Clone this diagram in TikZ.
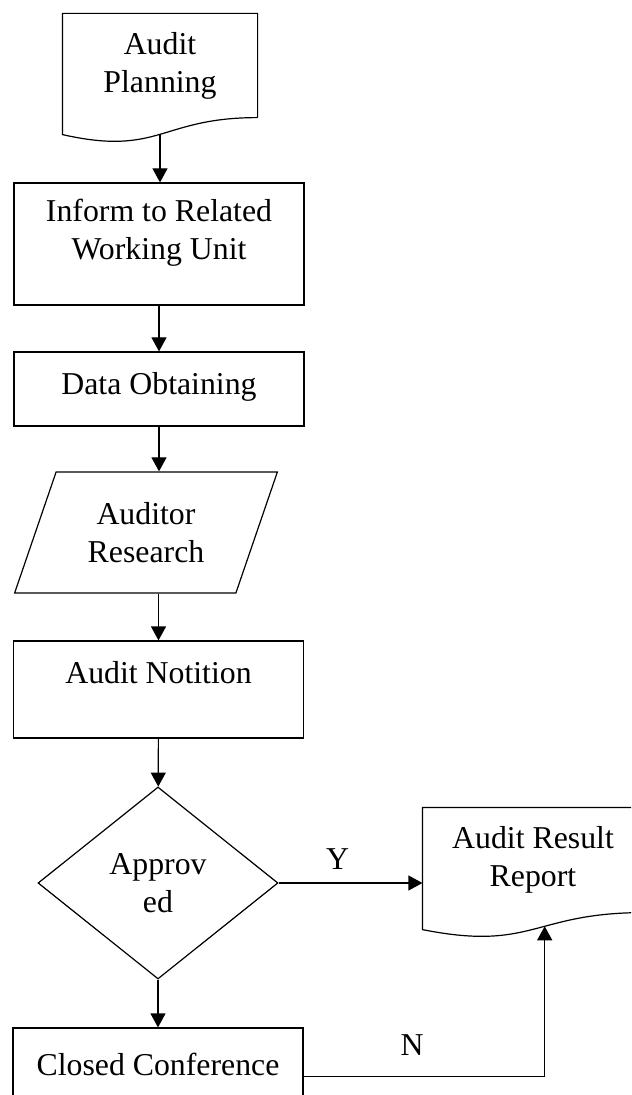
\documentclass[tikz,border=0pt]{standalone}
\usepackage{fontspec}
\setmainfont{Liberation Serif}
\usetikzlibrary{arrows.meta,shapes.geometric,calc}
\tikzset{
  flowbox/.style={draw, rectangle, minimum width=145pt, inner ysep=0pt, align=center},
  docbox/.style={rectangle, inner sep=0pt, align=center},
  decision/.style={draw, diamond, minimum width=120pt, minimum height=96pt, inner sep=0pt, align=center},
  datain/.style={draw, trapezium, trapezium left angle=66, trapezium right angle=114, trapezium stretches, minimum width=132pt, minimum height=60.5pt, inner sep=0pt, align=center},
  yn/.style={inner sep=0pt}
}
\begin{document}
\begin{tikzpicture}[x=0.5pt, y=-0.5pt, line width=0.6pt, >={Triangle[width=7.5pt,length=7pt]}, font=\fontsize{15.9}{19}\selectfont]
    \useasboundingbox (0,0) rectangle (631,1095);
    \clip (0,0) rectangle (631,1095);
    \node[docbox, minimum width=97pt, minimum height=51.5pt] (plan) at (160,65.5) {Audit\\Planning};
    \draw (plan.south east) -- (plan.north east) -- (plan.north west) -- ($(plan.south west)+(0,17)$) .. controls ($(plan.south)+(0,39)$) and (plan.south) .. (plan.south east) coordinate[pos=0.5] (plan-w);
    \node[flowbox, text height=38.5pt, text depth=22.5pt] (inform) at (159,244) {Inform to Related\\Working Unit};
    \node[flowbox, text height=21.5pt, text depth=15.5pt] (data) at (159,389) {Data Obtaining};
    \node[datain] (research) at (146,532.5) {Auditor\\Research};
    \node[flowbox, text height=21.25pt, text depth=27.25pt] (notition) at (158.5,689.5) {Audit Notition};
    \node[decision] (approve) at (158,883) {Approv\\ed};
    \node[flowbox, text height=23.75pt, text depth=24.75pt] (closed) at (158,1076.5) {Closed Conference};
    \node[docbox, minimum width=110pt, minimum height=52pt] (report) at (533,860) {Audit Result\\Report};
    \draw (report.south east) -- (report.north east) -- (report.north west) -- ($(report.south west)+(0,17)$) .. controls ($(report.south)+(0,39)$) and (report.south) .. (report.south east) coordinate[pos=0.57] (report-w);
    \draw[->] (plan-w) -- (plan-w |- inform.north);
    \draw[->] (inform) -- (data);
    \draw[->] (data) -- (data |- research.north);
    \draw[->] (notition.north |- research.south) -- (notition);
    \draw[->] (notition) -- (approve);
    \draw[->] (approve.east) -- node[yn, above=6.25pt, pos=0.41] {Y} (approve.east -| report.west);
    \draw[->] (approve) -- (closed);
    \draw[->] (closed.east) -- node[yn, above=10pt, pos=0.45] {N} (closed.east -| report-w) -- (report-w);
    \end{tikzpicture}
\end{document}
